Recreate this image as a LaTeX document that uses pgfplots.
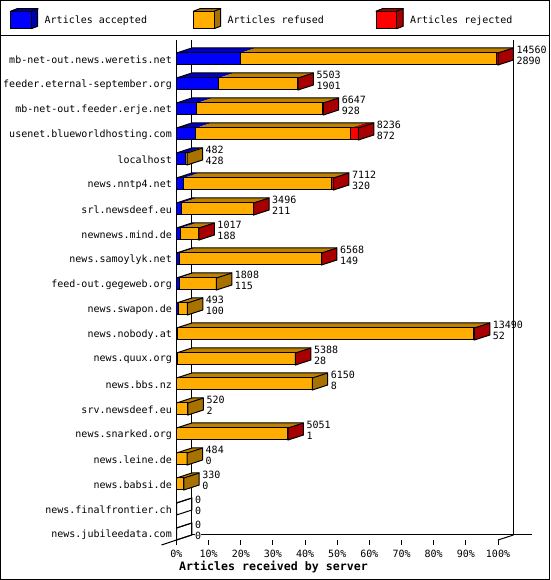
\documentclass[border=0pt]{standalone}
\usepackage{fontspec}
\setmainfont{DejaVu Sans Mono}
\usepackage{pgfplots}
\pgfplotsset{compat=1.18}

\definecolor{acc}{HTML}{0000FF}
\definecolor{acctop}{HTML}{0000BF}
\definecolor{accside}{HTML}{0000A8}
\definecolor{ref}{HTML}{FFAD00}
\definecolor{reftop}{HTML}{BF8200}
\definecolor{refside}{HTML}{A87200}
\definecolor{rej}{HTML}{FF0000}
\definecolor{rejtop}{HTML}{BF0000}
\definecolor{rejside}{HTML}{A80000}

\newcommand{\px}{\fontsize{10}{11}\selectfont}

% one polygon in axis coordinates: fill, draw, points
\newcommand{\face}[3]{%
  \edef\temp{\noexpand\addplot[forget plot,no markers,fill=#1,draw=#2,line width=1pt] coordinates {#3} -- cycle;}\temp}

% one front face and one top face, from x=#2 to x=#3 in row #1
\newcommand{\seg}[5]{%
  \pgfmathsetmacro\xa{#2}\pgfmathsetmacro\xb{#3}%
  \pgfmathsetmacro\xc{#2+4.8}\pgfmathsetmacro\xd{#3+4.8}%
  \pgfmathsetmacro\yt{#1+0.24}\pgfmathsetmacro\yb{#1-0.24}\pgfmathsetmacro\yc{#1+0.44}%
  \face{#5}{none}{(\xa,\yt)(\xc,\yc)(\xd,\yc)(\xb,\yt)}%
  \face{#4}{black}{(\xa,\yb)(\xa,\yt)(\xb,\yt)(\xb,\yb)}}

% row, total, accepted, rejected
\newcommand{\srv}[4]{%
  \pgfmathsetmacro\ee{#2/145.6}\pgfmathsetmacro\ea{#3/145.6}\pgfmathsetmacro\er{(#2-#4)/145.6}%
  \let\eE\ee\let\eA\ea\let\eR\er
  \ifnum#3>0 \seg{#1}{0}{\eA}{acc}{acctop}\fi
  \ifnum#2>#3 \seg{#1}{\eA}{\eR}{ref}{reftop}\fi
  \ifnum#4>0 \seg{#1}{\eR}{\eE}{rej}{rejtop}\fi
  \pgfmathsetmacro\xa{\eE}\pgfmathsetmacro\xc{\eE+4.8}%
  \pgfmathsetmacro\yt{#1+0.24}\pgfmathsetmacro\yb{#1-0.24}%
  \pgfmathsetmacro\yc{#1+0.44}\pgfmathsetmacro\yd{#1-0.04}%
  % outline of the top face
  \pgfmathsetmacro\xo{4.8}%
  \edef\temp{\noexpand\addplot[forget plot,no markers,draw=black,line width=1pt] coordinates {(0,\yt)(\xo,\yc)(\xc,\yc)};}\temp
  \ifnum#2=0 \def\sidecol{none}\else\ifnum#4>0 \def\sidecol{rejside}\else\def\sidecol{refside}\fi\fi
  \face{\sidecol}{black}{(\xa,\yb)(\xa,\yt)(\xc,\yc)(\xc,\yd)}%
  \pgfmathsetmacro\xl{\eE+5.7}\pgfmathsetmacro\ya{#1+0.36}\pgfmathsetmacro\yl{#1-0.08}%
  \edef\temp{\noexpand\addplot[forget plot,draw=none,no markers,point meta=explicit symbolic,nodes near coords,
    nodes near coords align={anchor=west},
    every node near coord/.style={inner sep=0pt,font=\noexpand\px,text=black}]
    coordinates {(\xl,\ya)[#2] (\xl,\yl)[#3]};}\temp}

\pgfplotsset{cube/.style 2 args={legend image code/.code={
  \fill[#2] (20.5pt,-8.5pt) -- (27pt,-6pt) -- (27pt,11.5pt) -- (20.5pt,9pt) -- cycle;
  \fill[#2] (0pt,9pt) -- (6.5pt,11.5pt) -- (27pt,11.5pt) -- (20.5pt,9pt) -- cycle;
  \draw[black,line width=1pt,fill=#1] (0pt,-8.5pt) rectangle (20.5pt,9pt);
  \draw[black,line width=1pt] (0pt,9pt) -- (6.5pt,11.5pt) -- (27pt,11.5pt) -- (27pt,-6pt) -- (20.5pt,-8.5pt);
  \draw[black,line width=1pt] (20.5pt,9pt) -- (27pt,11.5pt);
}}}

\begin{document}
\begin{tikzpicture}[x=1pt,y=1pt]
\useasboundingbox (0,0) rectangle (550,580);
\draw[line width=1pt] (0.5,0.5) rectangle (549.5,579.5);
\draw[line width=1pt] (0,544.5) -- (550,544.5);
\begin{axis}[
  at={(176.5pt,40pt)},
  anchor=south west,
  scale only axis,
  width=321.5pt,
  height=500pt,
  xmin=0, xmax=100,
  ymin=-0.24, ymax=19.76,
  clip=false,
  axis line style={draw=none},
  xtick={0,10,...,100},
  xticklabels={0\%,10\%,20\%,30\%,40\%,50\%,60\%,70\%,80\%,90\%,100\%},
  ytick={0,1,...,19},
  yticklabels={news.jubileedata.com,news.finalfrontier.ch,news.babsi.de,news.leine.de,news.snarked.org,srv.newsdeef.eu,news.bbs.nz,news.quux.org,news.nobody.at,news.swapon.de,feed-out.gegeweb.org,news.samoylyk.net,newnews.mind.de,srl.newsdeef.eu,news.nntp4.net,localhost,usenet.blueworldhosting.com,mb-net-out.feeder.erje.net,feeder.eternal-september.org,mb-net-out.news.weretis.net},
  xtick pos=bottom, ytick pos=left,
  tick align=outside,
  xtick style={black,line width=1pt},
  ytick style={draw=none},
  major tick length=5pt,
  xticklabel style={font=\px,inner sep=0pt,yshift=-5pt},
  yticklabel style={font=\px,inner sep=0pt,xshift=0.5pt,yshift=-1pt},
  xlabel={Articles received by server},
  xlabel style={font=\fontsize{11.6}{12}\selectfont\bfseries,inner sep=0pt,anchor=center,
    at={(axis description cs:0.3017,-0.054)}},
  legend style={draw=none,fill=none,inner sep=0pt,font=\px,
    at={(axis description cs:-0.5179,1.064)},anchor=north west,
    legend columns=3,nodes={inner sep=0pt},
    /tikz/column 1/.style={column sep=6.5pt},
    /tikz/column 2/.style={column sep=46pt},
    /tikz/column 3/.style={column sep=6.5pt},
    /tikz/column 4/.style={column sep=51.7pt},
    /tikz/column 5/.style={column sep=6.5pt}},
  legend cell align=left,
]
\addlegendimage{cube={acc}{accside}}
\addlegendentry{Articles accepted}
\addlegendimage{cube={ref}{refside}}
\addlegendentry{Articles refused}
\addlegendimage{cube={rej}{rejside}}
\addlegendentry{Articles rejected}

% walls and floor
\addplot[forget plot,no markers,black,line width=1pt] coordinates {(0,19.76)(0,-0.24)};
\addplot[forget plot,no markers,black,line width=1pt] coordinates {(4.67,19.76)(4.67,-0.04)};
\addplot[forget plot,no markers,black,line width=1pt] coordinates {(104.8,19.76)(104.8,-0.04)};
\addplot[forget plot,no markers,black,line width=1pt] coordinates {(4.67,-0.04)(5.75,-0.04)};
\addplot[forget plot,no markers,black,line width=1pt] coordinates {(7.7,-0.04)(110.6,-0.04)};
\addplot[forget plot,no markers,black,line width=1pt] coordinates {(-4.67,-0.44)(4.67,-0.04)};
\addplot[forget plot,no markers,black,line width=1pt] coordinates {(100,-0.24)(104.8,-0.04)};

% row, total, accepted, rejected
\srv{19}{14560}{2890}{70}
\srv{18}{5503}{1901}{20}
\srv{17}{6647}{928}{30}
\srv{16}{8236}{872}{362}
\srv{15}{482}{428}{0}
\srv{14}{7112}{320}{70}
\srv{13}{3496}{211}{10}
\srv{12}{1017}{188}{5}
\srv{11}{6568}{149}{5}
\srv{10}{1808}{115}{0}
\srv{9}{493}{100}{0}
\srv{8}{13490}{52}{20}
\srv{7}{5388}{28}{3}
\srv{6}{6150}{8}{0}
\srv{5}{520}{2}{0}
\srv{4}{5051}{1}{2}
\srv{3}{484}{0}{0}
\srv{2}{330}{0}{0}
\srv{1}{0}{0}{0}
\srv{0}{0}{0}{0}
\end{axis}
\end{tikzpicture}
\end{document}
